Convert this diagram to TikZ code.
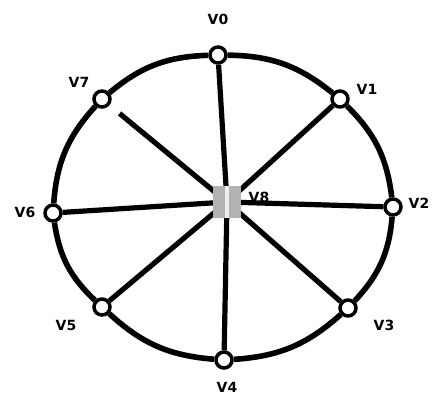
\documentclass[tikz,border=0pt]{standalone}
\usepackage{fontspec}
\setsansfont{DejaVu Sans}
\usetikzlibrary{positioning,backgrounds}
\tikzset{
  vtx/.style={circle,draw=black,fill=white,line width=3.5pt,minimum size=16pt,inner sep=0pt},
  hub/.style={rectangle,fill=gray!60,minimum width=28pt,minimum height=32pt,inner sep=0pt,
    path picture={\fill[gray!15] ([xshift=-2pt]path picture bounding box.north) rectangle ([xshift=2pt]path picture bounding box.south);}},
  vlab/.style={font=\sffamily\bfseries\fontsize{14}{14}\selectfont},
  rim/.style={line width=5.6pt,black},
  spoke/.style={line width=5.2pt,black},
}
\begin{document}
\begin{tikzpicture}[x=1pt,y=-1pt]
  \useasboundingbox (0,0) rectangle (433,394);
  % hub and rim vertices
  \node[hub] (v8) at (227,202) {};
  \node[vlab] (l8) at (259,197) {V8};
  \foreach \i/\x/\y/\lx/\ly in {0/218/55/218/19,1/340/99/367/89,2/393/207/419/203,3/348/308/384/325,
    4/224/360/227/387,5/102/307/66/325,6/53/213/25/212,7/102/99/79/82}{
    \node[vtx] (v\i) at (\x,\y) {};
    \node[vlab] (l\i) at (\lx,\ly) {V\i};
  }
  \begin{pgfonlayer}{background}
    \foreach \i [evaluate=\i as \j using {int(mod(\i+1,8))}] in {0,...,7}
      \draw[rim] (v\i) to[bend left=19] (v\j);
    \foreach \i in {0,...,6}
      \draw[spoke] (v8.center) -- (v\i);
    \draw[spoke,shorten >=13pt] (v8.center) -- (v7);
  \end{pgfonlayer}
\end{tikzpicture}
\end{document}
